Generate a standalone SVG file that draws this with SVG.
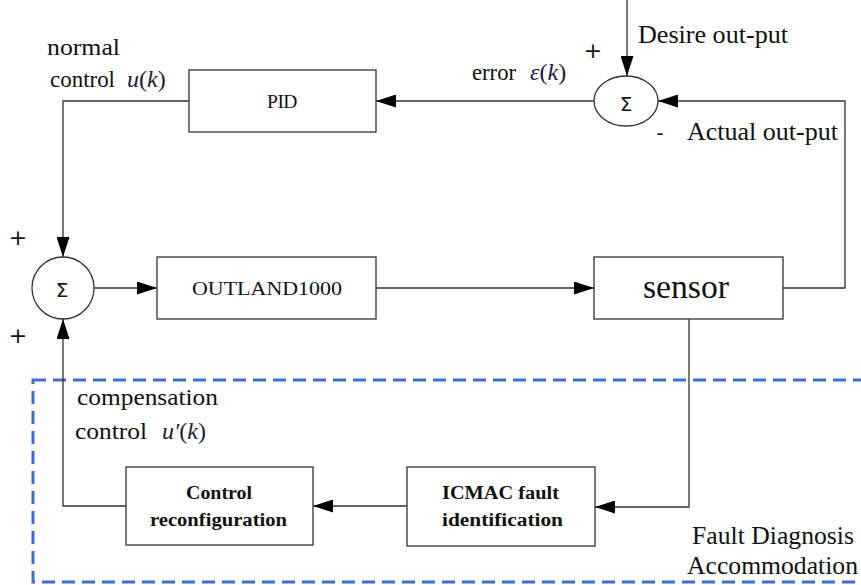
<svg xmlns="http://www.w3.org/2000/svg" width="861" height="585" viewBox="0 0 861 585">
<style>
.box{fill:#fff;stroke:#333;stroke-width:1.3}
.ln{fill:none;stroke:#333;stroke-width:1.3}
.t{fill:#111}
.m{fill:#1c1c3c;font-style:italic}
.s{fill:#111}
.b{fill:#111;font-weight:bold}
</style>
<defs>
<marker id="ah" viewBox="0 0 20 13" refX="20" refY="6.5" markerWidth="20" markerHeight="13" markerUnits="userSpaceOnUse" orient="auto">
<path d="M0,0 L20,6.5 L0,13 Z" fill="#000"/>
</marker>
</defs>
<rect width="861" height="585" fill="#fff"/>
<g id="region">
<rect x="33" y="380" width="840" height="202" fill="none" stroke="#3a6ed6" stroke-width="3" stroke-dasharray="13,7"/>
</g>
<g id="connectors">
<path class="ln" d="M627,0 V76" marker-end="url(#ah)"/>
<path class="ln" d="M783,288 H845 V101 H658" marker-end="url(#ah)"/>
<path class="ln" d="M594,101 H376" marker-end="url(#ah)"/>
<path class="ln" d="M189,101 H63 V257" marker-end="url(#ah)"/>
<path class="ln" d="M94,288 H157" marker-end="url(#ah)"/>
<path class="ln" d="M376,288 H594" marker-end="url(#ah)"/>
<path class="ln" d="M689,319 V507 H595" marker-end="url(#ah)"/>
<path class="ln" d="M407,506 H313" marker-end="url(#ah)"/>
<path class="ln" d="M126,506 H63 V319" marker-end="url(#ah)"/>
</g>
<g font-family="'Liberation Serif', 'DejaVu Serif', 'Noto Serif', serif">
<g id="sum_top">
<ellipse cx="626" cy="101" rx="32" ry="25" class="box"/>
<text x="626" y="111" class="s" font-family="'DejaVu Sans', sans-serif" font-size="20" text-anchor="middle">Σ</text>
</g>
<g id="sum_left">
<circle cx="63" cy="288" r="31" class="box"/>
<text x="62" y="297" class="s" font-family="'DejaVu Sans', sans-serif" font-size="20" text-anchor="middle">Σ</text>
</g>
<g id="pid">
<rect x="189" y="70" width="187" height="62" class="box"/>
<text x="282" y="108" class="t" font-size="19.5" text-anchor="middle" letter-spacing="-0.5">PID</text>
</g>
<g id="outland">
<rect x="157" y="257" width="219" height="62" class="box"/>
<text x="192" y="295" class="t" font-size="19" textLength="150" lengthAdjust="spacingAndGlyphs">OUTLAND1000</text>
</g>
<g id="sensor">
<rect x="594" y="257" width="189" height="62" class="box"/>
<text x="643" y="298" class="t" font-size="34" textLength="86" lengthAdjust="spacingAndGlyphs">sensor</text>
</g>
<g id="control_reconfiguration">
<rect x="126" y="467" width="187" height="78" class="box"/>
<text x="186" y="499" class="b" font-size="18" textLength="66" lengthAdjust="spacingAndGlyphs">Control</text>
<text x="150" y="526" class="b" font-size="18" textLength="137" lengthAdjust="spacingAndGlyphs">reconfiguration</text>
</g>
<g id="icmac">
<rect x="407" y="467" width="188" height="79" class="box"/>
<text x="442" y="499" class="b" font-size="18" textLength="117" lengthAdjust="spacingAndGlyphs">ICMAC fault</text>
<text x="442" y="526" class="b" font-size="18" textLength="121" lengthAdjust="spacingAndGlyphs">identification</text>
</g>
<g id="labels">
<text x="47" y="55" class="t" font-size="24" textLength="73" lengthAdjust="spacingAndGlyphs">normal</text>
<text x="50" y="87" class="t" font-size="24" textLength="65" lengthAdjust="spacingAndGlyphs">control</text>
<text x="127" y="87" class="m" font-size="24">u<tspan font-style="normal">(</tspan>k<tspan font-style="normal">)</tspan></text>
<text x="472" y="80" class="t" font-size="23" textLength="44" lengthAdjust="spacingAndGlyphs">error</text>
<text x="530" y="80" class="m" font-size="24">ε<tspan font-style="normal">(</tspan>k<tspan font-style="normal">)</tspan></text>
<text x="593" y="58" class="s" font-family="'DejaVu Sans', sans-serif" font-size="22" text-anchor="middle">+</text>
<text x="638" y="43" class="t" font-size="25" textLength="150" lengthAdjust="spacingAndGlyphs">Desire out-put</text>
<text x="660" y="140" class="s" font-family="'DejaVu Sans', sans-serif" font-size="20" text-anchor="middle">-</text>
<text x="687" y="140" class="t" font-size="25" textLength="151" lengthAdjust="spacingAndGlyphs">Actual out-put</text>
<text x="18" y="245" class="s" font-family="'DejaVu Sans', sans-serif" font-size="22" text-anchor="middle">+</text>
<text x="18" y="343" class="s" font-family="'DejaVu Sans', sans-serif" font-size="22" text-anchor="middle">+</text>
<text x="77" y="405" class="t" font-size="24" textLength="141" lengthAdjust="spacingAndGlyphs">compensation</text>
<text x="75" y="439" class="t" font-size="24" textLength="72" lengthAdjust="spacingAndGlyphs">control</text>
<text x="162" y="439" class="m" font-size="24">u′<tspan font-style="normal">(</tspan>k<tspan font-style="normal">)</tspan></text>
<text x="692" y="544" class="t" font-size="25" textLength="162" lengthAdjust="spacingAndGlyphs">Fault Diagnosis</text>
<text x="687" y="574" class="t" font-size="25" textLength="171" lengthAdjust="spacingAndGlyphs">Accommodation</text>
</g>
</g>
</svg>
